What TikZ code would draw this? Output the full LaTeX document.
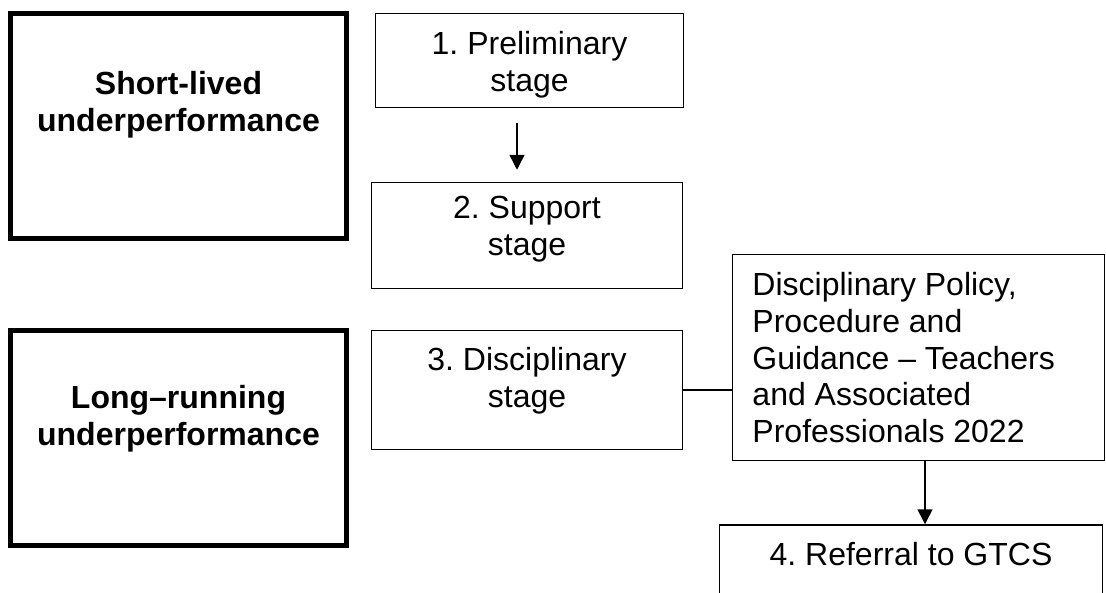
\documentclass[tikz,border=0pt]{standalone}
\usepackage{fontspec}
\setmainfont{Liberation Sans}
\usetikzlibrary{arrows.meta}
\frenchspacing

\begin{document}
\begin{tikzpicture}[x=1pt,y=-1pt,
    thickbox/.style={draw=black, line width=5pt, minimum width=336pt, inner sep=0pt},
    stagebox/.style={draw=black, line width=1.5pt, inner sep=0pt},
    boxtext/.style={anchor=north, align=center, inner sep=0pt, font=\fontsize{32}{36.7}\selectfont},
    headtext/.style={boxtext, font=\fontsize{32}{36.7}\selectfont\bfseries},
    arrow/.style={black, line width=1.5pt, -{Triangle[width=15pt,length=15pt]}}]
       \useasboundingbox (0,0) rectangle (1106,592);

       \node[thickbox, minimum height=225pt] (short) at (178.5,126) {};
       \node[thickbox, minimum height=215pt] (long) at (178.5,438) {};
       \node[headtext] (shorttext) at ([yshift=-60pt]short.north) {Short-lived\\underperformance};
       \node[headtext] (longtext) at ([yshift=-57.5pt]long.north) {Long--running\\underperformance};

       \node[stagebox, minimum width=308pt, minimum height=94pt] (prelim) at (529.5,60.5) {};
       \node[stagebox, minimum width=311pt, minimum height=106pt] (support) at (527,235.5) {};
       \node[stagebox, minimum width=311pt, minimum height=119pt] (discstage) at (527,390) {};
       \node[stagebox, minimum width=372pt, minimum height=206pt] (policy) at (918.5,357.5) {};
       \node[stagebox, minimum width=383pt, minimum height=95pt] (gtcs) at (911,572.5) {};

       \node[boxtext] (prelimtext) at ([yshift=-18.5pt]prelim.north) {1. Preliminary\\stage};
       \node[boxtext] (supporttext) at ([yshift=-14.5pt]support.north) {2. Support\\stage};
       \node[boxtext] (discstagetext) at ([yshift=-17.5pt]discstage.north) {3. Disciplinary\\stage};
       \node[boxtext, anchor=north west, align=left] (policytext) at ([xshift=20.5pt,yshift=-18.5pt]policy.north west)
            {Disciplinary Policy,\\Procedure and\\Guidance -- Teachers\\and Associated\\Professionals 2022};
       \node[boxtext] (gtcstext) at ([yshift=-17.5pt]gtcs.north) {4. Referral to GTCS};

       \draw[arrow, shorten <=15pt, shorten >=12pt] ([xshift=-12.5pt]prelim.south) -- ([xshift=-12.5pt]prelim.south |- support.north);
       \draw[black, line width=1.5pt] (discstage.east) -- (discstage.east -| policy.west);
       \draw[arrow] ([xshift=6.5pt]policy.south) -- ([xshift=6.5pt]policy.south |- gtcs.north);
      \end{tikzpicture}
\end{document}
